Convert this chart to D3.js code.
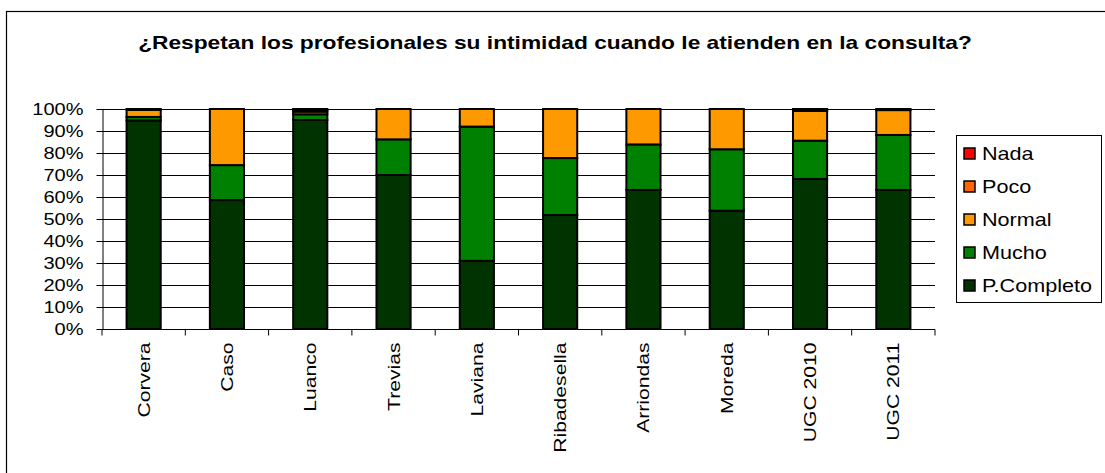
<!DOCTYPE html>
<html>
<head>
<meta charset="utf-8">
<script src="https://cdn.jsdelivr.net/npm/d3@7"></script>
<style>
  html, body { margin: 0; padding: 0; background: #fff; }
  svg { display: block; font-family: "Liberation Sans", Arial, sans-serif; }
</style>
</head>
<body>
<svg id="chart" width="1105" height="473"></svg>
<script>
// Survey centres
const categories = ["Corvera", "Caso", "Luanco", "Trevias", "Laviana", "Ribadesella", "Arriondas", "Moreda", "UGC 2010", "UGC 2011"];

// Answer shares (%) per centre, one array per answer
const pCompleto = [94.8, 58.6, 95.0, 70.0, 31.0, 51.8, 63.2, 53.8, 68.2, 63.2];
const mucho     = [1.6, 15.9, 2.6, 16.2, 61.0, 25.9, 20.7, 27.9, 17.4, 25.0];
const normal    = [3.2, 25.5, 1.2, 13.8, 8.0, 22.3, 16.1, 18.3, 13.5, 11.3];
const poco      = [0.4, 0, 0.6, 0, 0, 0, 0, 0, 0.6, 0.3];
const nada      = [0, 0, 0.6, 0, 0, 0, 0, 0, 0.3, 0.2];

const seriesNames = ["P.Completo", "Mucho", "Normal", "Poco", "Nada"];
const seriesValues = [pCompleto, mucho, normal, poco, nada];
const seriesColors = ["#003300", "#008000", "#FF9900", "#FF6600", "#FF0000"];

const yTicks = [0, 10, 20, 30, 40, 50, 60, 70, 80, 90, 100];

// Text in this chart is drawn slightly widened along its reading direction
const STRETCH = 1.28;

const svg = d3.select("#chart");

// Outer frame
svg.append("rect")
  .attr("x", 6.5).attr("y", 11.5)
  .attr("width", 1110).attr("height", 480)
  .attr("fill", "none").attr("stroke", "#000").attr("stroke-width", 1.2);

// Title
svg.append("text")
  .attr("transform", `translate(555,49) scale(1.3,1)`)
  .attr("text-anchor", "middle")
  .attr("font-size", 17.5).attr("font-weight", "bold")
  .text("¿Respetan los profesionales su intimidad cuando le atienden en la consulta?");

const plot = { left: 102, right: 935, top: 109, bottom: 329 };

const x = d3.scaleBand()
  .domain(categories)
  .range([plot.left, plot.right])
  .paddingInner(0.59).paddingOuter(0.295);

const xOuter = d3.scaleBand().domain(categories).range([plot.left, plot.right]);

const y = d3.scaleLinear().domain([0, 100]).range([plot.bottom, plot.top]);

// Gridlines
svg.append("g")
  .selectAll("line")
  .data(yTicks.filter(t => t > 0))
  .join("line")
  .attr("x1", plot.left).attr("x2", plot.right)
  .attr("y1", d => Math.round(y(d)) + 0.5).attr("y2", d => Math.round(y(d)) + 0.5)
  .attr("stroke", "#000").attr("stroke-width", 1);

// Stacked data
const rows = categories.map((c, i) => {
  const r = { cat: c };
  seriesNames.forEach((s, j) => r[s] = seriesValues[j][i]);
  return r;
});
const stacked = d3.stack().keys(seriesNames)(rows);

svg.append("g")
  .selectAll("g")
  .data(stacked)
  .join("g")
  .attr("fill", (d, i) => seriesColors[i])
  .selectAll("rect")
  .data(d => d)
  .join("rect")
  .attr("x", d => x(d.data.cat))
  .attr("width", x.bandwidth())
  .attr("y", d => y(d[1]))
  .attr("height", d => Math.max(0, y(d[0]) - y(d[1])))
  .attr("stroke", "#000").attr("stroke-width", 2);

// Y axis
const yAxis = svg.append("g")
  .attr("transform", `translate(${plot.left + 0.5},0)`)
  .call(d3.axisLeft(y).tickValues(yTicks).tickFormat(d => d + "%").tickSize(6).tickSizeOuter(0));
yAxis.select(".domain").attr("stroke", "#000");
yAxis.selectAll("line").attr("stroke", "#000");
yAxis.selectAll("text")
  .attr("font-size", 16).attr("fill", "#000")
  .attr("font-family", "Liberation Sans, Arial, sans-serif")
  .attr("x", null).attr("dy", null)
  .attr("transform", "translate(-19,5.5) scale(1.25,1)");

// X axis
const xAxis = svg.append("g")
  .attr("transform", `translate(0,${plot.bottom + 0.5})`);
xAxis.append("line")
  .attr("x1", plot.left).attr("x2", plot.right)
  .attr("stroke", "#000");
xAxis.selectAll("line.tick")
  .data(categories.concat(["__end"]))
  .join("line")
  .attr("class", "tick")
  .attr("x1", (d, i) => plot.left + i * xOuter.step())
  .attr("x2", (d, i) => plot.left + i * xOuter.step())
  .attr("y1", 0).attr("y2", 6)
  .attr("stroke", "#000");
xAxis.selectAll("text")
  .data(categories)
  .join("text")
  .attr("transform", d => `translate(${x(d) + x.bandwidth() / 2 + 6},13) rotate(-90) scale(1.32,1)`)
  .attr("text-anchor", "end")
  .attr("font-size", 16)
  .text(d => d);

// Legend
const legend = svg.append("g");
legend.append("rect")
  .attr("x", 956.5).attr("y", 135.5)
  .attr("width", 145).attr("height", 167)
  .attr("fill", "#fff").attr("stroke", "#000").attr("stroke-width", 1);

const legendOrder = [4, 3, 2, 1, 0];
legendOrder.forEach((si, k) => {
  const cy = 153 + k * 33;
  legend.append("rect")
    .attr("x", 964).attr("y", cy - 5)
    .attr("width", 11).attr("height", 11)
    .attr("fill", seriesColors[si]).attr("stroke", "#000").attr("stroke-width", 1.5);
  legend.append("text")
    .attr("transform", `translate(982,${cy + 6.5}) scale(1.2,1)`)
    .attr("font-size", 18)
    .text(seriesNames[si]);
});
</script>
</body>
</html>
